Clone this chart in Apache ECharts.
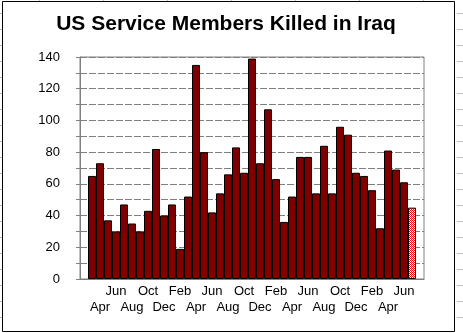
<!DOCTYPE html>
<html>
<head>
<meta charset="utf-8">
<script src="https://cdn.jsdelivr.net/npm/echarts@6/dist/echarts.min.js"></script>
<style>
html,body{margin:0;padding:0;background:#fff;}
#c{width:463px;height:333px;}
</style>
</head>
<body>
<div id="c"></div>
<script>
// Months: Mar 2003 .. Jul 2006
var months = ['Mar','Apr','May','Jun','Jul','Aug','Sep','Oct','Nov','Dec',
  'Jan','Feb','Mar','Apr','May','Jun','Jul','Aug','Sep','Oct','Nov','Dec',
  'Jan','Feb','Mar','Apr','May','Jun','Jul','Aug','Sep','Oct','Nov','Dec',
  'Jan','Feb','Mar','Apr','May','Jun','Jul'];
var killed = [65,73,37,30,47,35,30,43,82,40,
  47,19,52,135,80,42,54,66,83,67,
  139,73,107,63,36,52,77,77,54,84,
  54,96,91,67,65,56,32,81,69,61,
  45];
var partialIndex = 40; // last month is partial (hatched)
var yMax = 140, yStep = 10, yLabelStep = 20;
var titleText = 'US Service Members Killed in Iraq';

// category axis with one empty slot at each end
var cats = [''].concat(months).concat(['']);
var pat = document.createElement('canvas');
pat.width = 2; pat.height = 2;
var pc = pat.getContext('2d');
pc.fillStyle = '#ffffff'; pc.fillRect(0,0,2,2);
pc.fillStyle = '#ff0000'; pc.fillRect(0,0,1,1); pc.fillRect(1,1,1,1);

var data = [null];
killed.forEach(function(v, i){
  if (i === partialIndex) {
    data.push({value: v, itemStyle: {color: {image: pat, repeat: 'repeat'}}});
  } else data.push(v);
});
data.push(null);

var font = 'Liberation Sans, Arial, sans-serif';
var gfx = [];
// outer chart border
gfx.push({type:'rect', shape:{x:2.5,y:1.5,width:452,height:330}, style:{fill:null, stroke:'#000', lineWidth:1}, z:10});
// spreadsheet gridline stubs outside the chart
for (var y = 13; y < 333; y += 16) {
  gfx.push({type:'line', shape:{x1:0,y1:y+0.5,x2:2,y2:y+0.5}, style:{stroke:'#c0c0c0', lineWidth:1}});
  gfx.push({type:'line', shape:{x1:457,y1:y+0.5,x2:463,y2:y+0.5}, style:{stroke:'#c0c0c0', lineWidth:1}});
}
for (var x = 39; x < 455; x += 64) {
  gfx.push({type:'line', shape:{x1:x+0.5,y1:0,x2:x+0.5,y2:1}, style:{stroke:'#c0c0c0', lineWidth:1}});
}

var chart = echarts.init(document.getElementById('c'), null, {renderer:'canvas'});
chart.setOption({
  animation: false,
  backgroundColor: '#fff',
  title: {
    text: titleText, left: 221, top: 9, textAlign: 'center',
    textStyle: {fontFamily: font, fontWeight: 'bold', fontSize: 21, color: '#000'}
  },
  grid: {left: 80, right: 39, top: 57, bottom: 54, show: true, borderColor: '#808080', borderWidth: 1, backgroundColor: 'transparent'},
  xAxis: {
    type: 'category', data: cats, boundaryGap: true,
    axisLine: {lineStyle: {color: '#808080', width: 1}},
    axisTick: {show: false},
    axisLabel: {
      interval: 0, margin: 4, color: '#000', fontFamily: font, fontSize: 13, lineHeight: 16.5,
      formatter: function(v, i){
        if (i < 2 || i > cats.length - 3 || i % 2 !== 0) return '';
        return (i % 4 === 2) ? '\n' + v : v;
      }
    }
  },
  yAxis: {
    type: 'value', min: 0, max: yMax, interval: yStep,
    axisLine: {show: true, lineStyle: {color: '#808080', width: 1}},
    axisTick: {show: true, length: 4, lineStyle: {color: '#808080'}},
    axisLabel: {
      margin: 20, color: '#000', fontFamily: font, fontSize: 13,
      formatter: function(v){ return v % yLabelStep === 0 ? String(v) : ''; }
    },
    splitLine: {show: true, lineStyle: {color: '#808080', width: 1, type: [7, 2]}}
  },
  series: [{
    type: 'bar', data: data, barCategoryGap: '0%', barGap: '0%',
    itemStyle: {color: '#800000', borderColor: '#000', borderWidth: 1}
  }],
  graphic: gfx
});
</script>
</body>
</html>
